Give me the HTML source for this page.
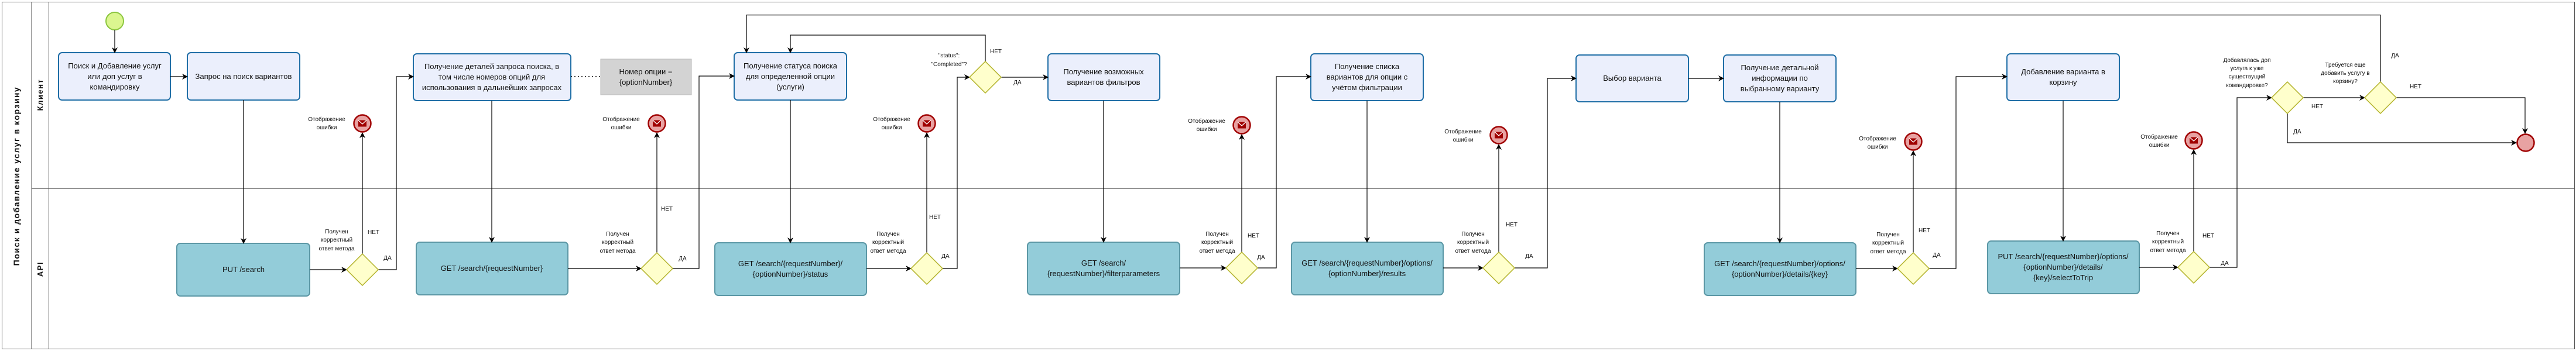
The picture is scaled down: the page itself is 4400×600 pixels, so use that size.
<!DOCTYPE html>
<html><head><meta charset="utf-8"><style>
html,body{margin:0;padding:0;background:#fff;}
svg{display:block;}
text{font-family:"Liberation Sans","Noto Sans CJK SC",sans-serif;fill:#111;}
.bt{font-size:13px;text-anchor:middle;}
.sm{font-size:10px;text-anchor:middle;}
.cb{fill:#ebeffc;stroke:#1f6ea6;stroke-width:2;}
.ab{fill:#93ccd9;stroke:#5b97a5;stroke-width:2;}
.dm{fill:#ffffcc;stroke:#b3b32a;stroke-width:1.5;}
.ln{fill:none;stroke:#000;stroke-width:1.2;}
.er{fill:#e8a2a2;stroke:#a00000;stroke-width:2.5;}
</style></head><body>
<svg width="4400" height="600" viewBox="0 0 4400 600" xmlns="http://www.w3.org/2000/svg">
<defs>
<marker id="a" markerWidth="10" markerHeight="10" refX="9" refY="5" orient="auto" markerUnits="userSpaceOnUse">
<path d="M0,0 L10,5 L0,10 L3,5 Z" fill="#000"/></marker>
<g id="env"><rect x="-7" y="-5.5" width="14" height="11" fill="#a00000"/><polyline points="-7,-5.5 0,1 7,-5.5" fill="none" stroke="#fff" stroke-width="1.2"/></g>
</defs>
<!-- pool -->
<rect x="3.5" y="3.5" width="4394" height="593" fill="none" stroke="#555" stroke-width="1"/>
<line x1="54" y1="3.5" x2="54" y2="596.5" stroke="#555"/>
<line x1="83.5" y1="3.5" x2="83.5" y2="596.5" stroke="#555"/>
<line x1="54" y1="322" x2="4397" y2="322" stroke="#555" stroke-width="1.2"/>
<text transform="translate(33,301) rotate(-90)" style="font-size:14px;font-weight:bold;text-anchor:middle;letter-spacing:1.5px">Поиск и добавление услуг в корзину</text>
<text transform="translate(73,162) rotate(-90)" style="font-size:13px;font-weight:bold;text-anchor:middle;letter-spacing:1.5px">Клиент</text>
<text transform="translate(73,460) rotate(-90)" style="font-size:13px;font-weight:bold;text-anchor:middle;letter-spacing:1.5px">API</text>

<!-- start -->
<circle cx="196" cy="36" r="15" fill="#dbf68f" stroke="#8cc63f" stroke-width="2"/>

<!-- client boxes -->
<rect class="cb" x="100" y="90" width="191" height="81" rx="6"/>
<text class="bt" x="196" y="117">Поиск и Добавление услуг</text><text class="bt" x="196" y="135">или доп услуг в</text><text class="bt" x="196" y="153">командировку</text>
<rect class="cb" x="320" y="90" width="192" height="81" rx="6"/>
<text class="bt" x="416" y="135">Запрос на поиск вариантов</text>
<rect class="cb" x="706" y="92" width="269" height="80" rx="6"/>
<text class="bt" x="840" y="118">Получение деталей запроса поиска, в</text><text class="bt" x="840" y="136">том числе номеров опций для</text><text class="bt" x="840" y="154">использования в дальнейших запросах</text>
<rect x="1026" y="101" width="155" height="61" fill="#d3d3d3" stroke="#bbb"/>
<text class="bt" x="1103" y="127">Номер опции =</text><text class="bt" x="1103" y="145">{optionNumber}</text>
<line x1="975" y1="131" x2="1026" y2="131" stroke="#000" stroke-width="1.5" stroke-dasharray="2,4"/>
<rect class="cb" x="1254" y="90" width="192" height="81" rx="6"/>
<text class="bt" x="1350" y="117">Получение статуса поиска</text><text class="bt" x="1350" y="135">для определенной опции</text><text class="bt" x="1350" y="153">(услуги)</text>
<rect class="cb" x="1790" y="92" width="191" height="80" rx="6"/>
<text class="bt" x="1885" y="127">Получение возможных</text><text class="bt" x="1885" y="145">вариантов фильтров</text>
<rect class="cb" x="2239" y="92" width="192" height="80" rx="6"/>
<text class="bt" x="2335" y="118">Получение списка</text><text class="bt" x="2335" y="136">вариантов для опции с</text><text class="bt" x="2335" y="154">учётом фильтрации</text>
<rect class="cb" x="2692" y="94" width="192" height="80" rx="6"/>
<text class="bt" x="2788" y="138">Выбор варианта</text>
<rect class="cb" x="2944" y="94" width="192" height="80" rx="6"/>
<text class="bt" x="3040" y="120">Получение детальной</text><text class="bt" x="3040" y="138">информации по</text><text class="bt" x="3040" y="156">выбранному варианту</text>
<rect class="cb" x="3428" y="92" width="192" height="80" rx="6"/>
<text class="bt" x="3524" y="127">Добавление варианта в</text><text class="bt" x="3524" y="145">корзину</text>

<!-- api boxes -->
<rect class="ab" x="302" y="416" width="227" height="90" rx="6"/>
<text class="bt" x="416" y="465">PUT /search</text>
<rect class="ab" x="711" y="414" width="259" height="90" rx="6"/>
<text class="bt" x="840" y="463">GET /search/{requestNumber}</text>
<rect class="ab" x="1221" y="415" width="259" height="90" rx="6"/>
<text class="bt" x="1350" y="455">GET /search/{requestNumber}/</text><text class="bt" x="1350" y="473">{optionNumber}/status</text>
<rect class="ab" x="1755" y="414" width="260" height="90" rx="6"/>
<text class="bt" x="1885" y="454">GET /search/</text><text class="bt" x="1885" y="472">{requestNumber}/filterparameters</text>
<rect class="ab" x="2206" y="414" width="259" height="90" rx="6"/>
<text class="bt" x="2335" y="454">GET /search/{requestNumber}/options/</text><text class="bt" x="2335" y="472">{optionNumber}/results</text>
<rect class="ab" x="2911" y="415" width="259" height="90" rx="6"/>
<text class="bt" x="3040" y="455">GET /search/{requestNumber}/options/</text><text class="bt" x="3040" y="473">{optionNumber}/details/{key}</text>
<rect class="ab" x="3395" y="412" width="259" height="90" rx="6"/>
<text class="bt" x="3524" y="443">PUT /search/{requestNumber}/options/</text><text class="bt" x="3524" y="461">{optionNumber}/details/</text><text class="bt" x="3524" y="479">{key}/selectToTrip</text>

<!-- connectors -->
<g class="ln" marker-end="url(#a)">
<path d="M196,51 V90"/>
<path d="M291,131 H320"/>
<path d="M416,171 V416"/>
<path d="M529,461 H592"/>
<path d="M619,434 V227"/>
<path d="M646,461 H677 V131 H706"/>
<path d="M840,172 V414"/>
<path d="M970,459 H1095"/>
<path d="M1122,432 V227"/>
<path d="M1149,459 H1194 V130 H1254"/>
<path d="M1350,171 V415"/>
<path d="M1480,459 H1556"/>
<path d="M1583,432 V227"/>
<path d="M1610,459 H1635 V132 H1656"/>
<path d="M1710,132 H1790"/>
<path d="M1683,105 V60 H1350 V90"/>
<path d="M1885,172 V414"/>
<path d="M2015,458 H2094"/>
<path d="M2121,431 V230"/>
<path d="M2148,458 H2180 V131 H2239"/>
<path d="M2335,172 V414"/>
<path d="M2465,458 H2533"/>
<path d="M2560,431 V247"/>
<path d="M2587,458 H2643 V134 H2692"/>
<path d="M2884,134 H2944"/>
<path d="M3040,174 V415"/>
<path d="M3170,459 H3241"/>
<path d="M3268,432 V258"/>
<path d="M3295,459 H3341 V131 H3428"/>
<path d="M3524,172 V412"/>
<path d="M3654,457 H3720"/>
<path d="M3747,430 V256"/>
<path d="M3774,457 H3821 V167 H3880"/>
<path d="M3934,167 H4039"/>
<path d="M3907,194 V244 H4298"/>
<path d="M4093,167 H4313 V228"/>
<path d="M4066,140 V25.6 H1275 V90"/>
</g>

<!-- diamonds -->
<g class="dm">
<path d="M619,434 L646,461 L619,488 L592,461 Z"/>
<path d="M1122,432 L1149,459 L1122,486 L1095,459 Z"/>
<path d="M1583,432 L1610,459 L1583,486 L1556,459 Z"/>
<path d="M1683,105 L1710,132 L1683,159 L1656,132 Z"/>
<path d="M2121,431 L2148,458 L2121,485 L2094,458 Z"/>
<path d="M2560,431 L2587,458 L2560,485 L2533,458 Z"/>
<path d="M3268,432 L3295,459 L3268,486 L3241,459 Z"/>
<path d="M3747,430 L3774,457 L3747,484 L3720,457 Z"/>
<path d="M3907,140 L3934,167 L3907,194 L3880,167 Z"/>
<path d="M4066,140 L4093,167 L4066,194 L4039,167 Z"/>
</g>

<!-- error events -->
<g>
<circle class="er" cx="619" cy="211" r="14.5"/><use href="#env" x="619" y="211"/>
<circle class="er" cx="1122" cy="211" r="14.5"/><use href="#env" x="1122" y="211"/>
<circle class="er" cx="1583" cy="211" r="14.5"/><use href="#env" x="1583" y="211"/>
<circle class="er" cx="2121" cy="214" r="14.5"/><use href="#env" x="2121" y="214"/>
<circle class="er" cx="2560" cy="231" r="14.5"/><use href="#env" x="2560" y="231"/>
<circle class="er" cx="3268" cy="242" r="14.5"/><use href="#env" x="3268" y="242"/>
<circle class="er" cx="3747" cy="240" r="14.5"/><use href="#env" x="3747" y="240"/>
<circle class="er" cx="4314" cy="244" r="14.5"/>
</g>

<!-- small labels -->
<g class="sm">
<text x="558" y="207">Отображение</text><text x="558" y="221">ошибки</text>
<text x="1061" y="207">Отображение</text><text x="1061" y="221">ошибки</text>
<text x="1523" y="207">Отображение</text><text x="1523" y="221">ошибки</text>
<text x="2061" y="210">Отображение</text><text x="2061" y="224">ошибки</text>
<text x="2499" y="228">Отображение</text><text x="2499" y="242">ошибки</text>
<text x="3207" y="240">Отображение</text><text x="3207" y="254">ошибки</text>
<text x="3688" y="237">Отображение</text><text x="3688" y="251">ошибки</text>

<text x="575" y="399">Получен</text><text x="575" y="413">корректный</text><text x="575" y="428">ответ метода</text>
<text x="1055" y="403">Получен</text><text x="1055" y="417">корректный</text><text x="1055" y="432">ответ метода</text>
<text x="1517" y="403">Получен</text><text x="1517" y="417">корректный</text><text x="1517" y="432">ответ метода</text>
<text x="2079" y="403">Получен</text><text x="2079" y="417">корректный</text><text x="2079" y="432">ответ метода</text>
<text x="2516" y="403">Получен</text><text x="2516" y="417">корректный</text><text x="2516" y="432">ответ метода</text>
<text x="3225" y="404">Получен</text><text x="3225" y="418">корректный</text><text x="3225" y="433">ответ метода</text>
<text x="3703" y="402">Получен</text><text x="3703" y="416">корректный</text><text x="3703" y="431">ответ метода</text>

<text x="638" y="400">НЕТ</text><text x="662" y="444">ДА</text>
<text x="1139" y="360">НЕТ</text><text x="1166" y="445">ДА</text>
<text x="1597" y="374">НЕТ</text><text x="1615" y="441">ДА</text>
<text x="1621" y="98">"status":</text><text x="1621" y="113">"Completed"?</text>
<text x="1701" y="91">НЕТ</text><text x="1738" y="144">ДА</text>
<text x="2141" y="406">НЕТ</text><text x="2154" y="443">ДА</text>
<text x="2582" y="387">НЕТ</text><text x="2612" y="441">ДА</text>
<text x="3287" y="397">НЕТ</text><text x="3308" y="439">ДА</text>
<text x="3772" y="406">НЕТ</text><text x="3800" y="453">ДА</text>
<text x="3838" y="106">Добавлялась доп</text><text x="3838" y="120">услуга к уже</text><text x="3838" y="134">существущий</text><text x="3838" y="149">командировке?</text>
<text x="3958" y="185">НЕТ</text><text x="3924" y="228">ДА</text>
<text x="4006" y="114">Требуется еще</text><text x="4006" y="128">добавить услугу в</text><text x="4006" y="142">корзину?</text>
<text x="4091" y="98">ДА</text><text x="4126" y="151">НЕТ</text>
</g>
</svg>
</body></html>
